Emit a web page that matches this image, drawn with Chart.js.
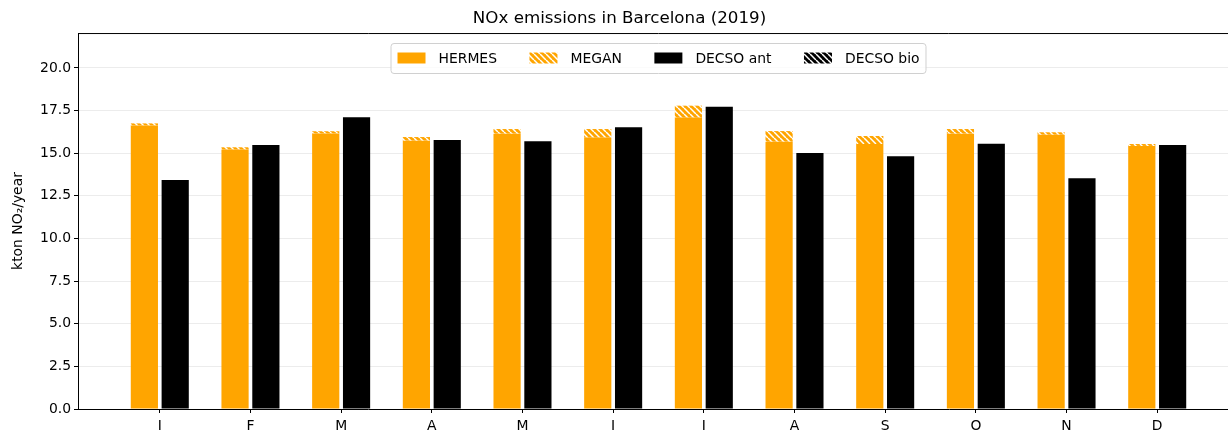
<!DOCTYPE html>
<html>
<head>
<meta charset="utf-8">
<script src="https://cdn.jsdelivr.net/npm/chart.js@4/dist/chart.umd.min.js"></script>
<style>
  html, body { margin: 0; padding: 0; background: #fff; overflow: hidden; }
  #wrap { width: 1317px; height: 434px; }
</style>
</head>
<body>
<div id="wrap"><canvas id="nox" width="1317" height="434"></canvas></div>
<script>
// monthly NOx totals, kton NO2/year
const months   = ['I', 'F', 'M', 'A', 'M', 'I', 'I', 'A', 'S', 'O', 'N', 'D'];
const hermes   = [16.63, 15.22, 16.16, 15.74, 16.15, 15.92, 17.09, 15.68, 15.54, 16.15, 16.09, 15.43];
const megan    = [0.12, 0.13, 0.13, 0.21, 0.27, 0.50, 0.70, 0.62, 0.47, 0.27, 0.14, 0.11];
const decsoAnt = [13.43, 15.48, 17.11, 15.78, 15.70, 16.52, 17.73, 15.01, 14.82, 15.56, 13.53, 15.48];
const decsoBio = [0, 0, 0, 0, 0, 0, 0, 0, 0, 0, 0, 0];
const yTicks   = [0, 2.5, 5, 7.5, 10, 12.5, 15, 17.5, 20];

const ORANGE = '#ffa500';
const FONT = 'DejaVu Sans';

// diagonal "\\" hatch fill
function hatch(bg, fg) {
    const s = 6;
    const c = document.createElement('canvas');
    c.width = s; c.height = s;
    const g = c.getContext('2d');
    g.fillStyle = bg;
    g.fillRect(0, 0, s, s);
    g.strokeStyle = fg;
    g.lineWidth = 1.5;
    for (let k = -1; k <= 1; k++) {
        g.beginPath();
        g.moveTo(k * s, 0);
        g.lineTo(k * s + s, s);
        g.stroke();
    }
    return g.createPattern(c, 'repeat');
}

const pts = arr => arr.map((v, i) => ({ x: i, y: v }));

// axes box top line
const topSpine = {
    id: 'topSpine',
    afterDraw(chart) {
        const { ctx, chartArea: a } = chart;
        ctx.save();
        ctx.strokeStyle = '#000';
        ctx.lineWidth = 1;
        ctx.beginPath();
        ctx.moveTo(a.left, a.top + 0.5);
        ctx.lineTo(a.right, a.top + 0.5);
        ctx.stroke();
        ctx.restore();
    }
};

// framed legend inside the plot, one row
const boxLegend = {
    id: 'boxLegend',
    afterDraw(chart) {
        const { ctx, chartArea: a } = chart;
        const ds = chart.data.datasets;
        const pad = 6.5, handle = 28, textPad = 13, colSpace = 32.5;
        ctx.save();
        ctx.font = '13.9px "' + FONT + '"';
        const widths = ds.map(d => ctx.measureText(d.label).width);
        let total = pad * 2;
        widths.forEach((w, i) => { total += handle + textPad + w + (i ? colSpace : 0); });
        const x0 = (a.left + a.right) / 2 - total / 2;
        const y0 = 43.5, h = 30;

        ctx.fillStyle = 'rgba(255,255,255,0.8)';
        ctx.strokeStyle = '#d0d0d0';
        ctx.lineWidth = 1;
        ctx.beginPath();
        ctx.roundRect(x0, y0, total, h, 3);
        ctx.fill();
        ctx.stroke();

        let x = x0 + pad;
        const cy = y0 + h / 2;
        ds.forEach((d, i) => {
            ctx.fillStyle = d.backgroundColor;
            ctx.fillRect(x, cy - 6, handle, 11);
            ctx.fillStyle = '#000';
            ctx.textBaseline = 'middle';
            ctx.fillText(d.label, x + handle + textPad, cy + 0.5);
            x += handle + textPad + widths[i] + colSpace;
        });
        ctx.restore();
    }
};

const ctx = document.getElementById('nox').getContext('2d');

new Chart(ctx, {
    type: 'bar',
    data: {
        datasets: [
            { label: 'HERMES', data: pts(hermes), backgroundColor: ORANGE, stack: 'hermes' },
            { label: 'MEGAN', data: pts(megan), backgroundColor: hatch(ORANGE, '#fff'), stack: 'hermes' },
            { label: 'DECSO ant', data: pts(decsoAnt), backgroundColor: '#000', stack: 'decso' },
            { label: 'DECSO bio', data: pts(decsoBio), backgroundColor: hatch('#000', '#fff'), stack: 'decso' }
        ]
    },
    options: {
        responsive: false,
        animation: false,
        categoryPercentage: 0.68,
        barPercentage: 0.882,
        layout: { padding: { left: 0, right: 78, top: 0, bottom: 0 } },
        plugins: {
            legend: { display: false },
            tooltip: { enabled: false },
            title: {
                display: true,
                text: 'NOx emissions in Barcelona (2019)',
                color: '#000',
                font: { family: FONT, size: 16.7, weight: 'normal', lineHeight: 1.2 },
                padding: { top: 9, bottom: 4 }
            }
        },
        scales: {
            x: {
                type: 'linear',
                stacked: true,
                offset: false,
                min: -0.902,
                max: 11.902,
                afterBuildTicks: s => { s.ticks = months.map((m, i) => ({ value: i })); },
                afterFit: s => { s.height = 25; },
                ticks: {
                    color: '#000',
                    padding: 5,
                    maxRotation: 0,
                    autoSkip: false,
                    font: { family: FONT, size: 13.9 },
                    callback: v => months[v]
                },
                grid: { offset: false, drawOnChartArea: false, tickLength: 4, tickColor: '#000' },
                border: { color: '#000', width: 1 }
            },
            y: {
                stacked: true,
                min: 0,
                max: 22.05,
                afterBuildTicks: s => { s.ticks = yTicks.map(v => ({ value: v })); },
                afterFit: s => { s.width = 78; },
                ticks: {
                    color: '#000',
                    padding: 3,
                    font: { family: FONT, size: 13.9 },
                    callback: v => v.toFixed(1)
                },
                grid: { color: '#ececec', tickLength: 4, tickColor: '#000' },
                border: { color: '#000', width: 1 },
                title: {
                    display: true,
                    text: 'kton NO₂/year',
                    color: '#000',
                    font: { family: FONT, size: 13.9, lineHeight: 1.2 },
                    padding: { top: 10, bottom: 0 }
                }
            }
        }
    },
    plugins: [topSpine, boxLegend]
});
</script>
</body>
</html>
